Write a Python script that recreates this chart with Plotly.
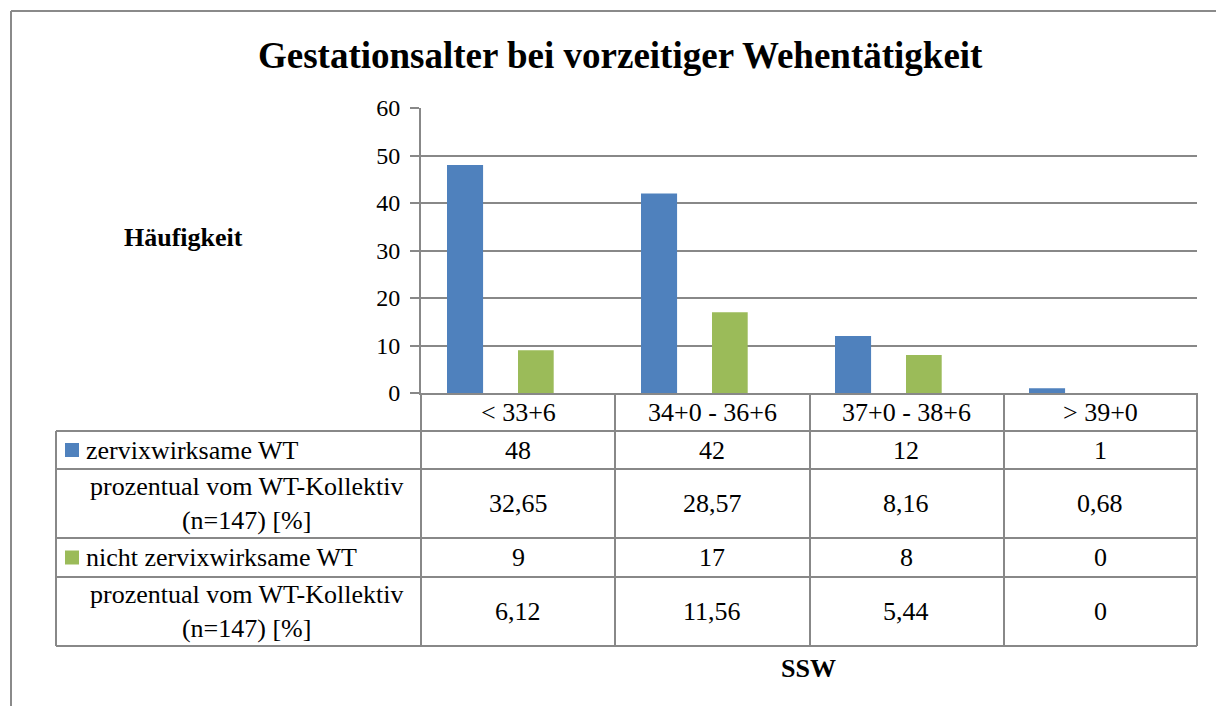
import plotly.graph_objects as go

# data
categories = ['< 33+6', '34+0 - 36+6', '37+0 - 38+6', '> 39+0']
zervix = [48, 42, 12, 1]
zervix_pct = [32.65, 28.57, 8.16, 0.68]
nicht = [9, 17, 8, 0]
nicht_pct = [6.12, 11.56, 5.44, 0]
row_names = ['zervixwirksame WT', 'prozentual vom WT-Kollektiv<br>(n=147) [%]',
             'nicht zervixwirksame WT', 'prozentual vom WT-Kollektiv<br>(n=147) [%]']

BLUE = '#4F81BD'
GREEN = '#9BBB59'
GRID = '#888888'
FONT = 'Liberation Serif, Times New Roman, serif'

# page body has an 8px margin, so everything is laid out 8px up/left
OFF = 8
W, H = 1224 - OFF, 706 - OFF
L, R, T, B = 421 - OFF, 1197 - OFF, 108 - OFF, 393 - OFF   # plot area


def px(x):
    return (x - OFF - L) / (R - L)


def py(y):
    return (B - (y - OFF)) / (B - T)


def fmt(v):
    if v == 0:
        return '0'
    return f'{v:.2f}'.replace('.', ',')


def esc(s):
    return s.replace('<', '&lt;').replace('>', '&gt;')


fig = go.Figure()
fig.add_trace(go.Bar(x=categories, y=zervix, name='zervixwirksame WT',
                     marker=dict(color=BLUE, line=dict(width=0)),
                     offset=-0.366, width=0.186))
fig.add_trace(go.Bar(x=categories, y=nicht, name='nicht zervixwirksame WT',
                     marker=dict(color=GREEN, line=dict(width=0)),
                     offset=0.0, width=0.184))

fig.update_layout(
    width=W, height=H,
    margin=dict(l=L, r=W - R, t=T, b=H - B),
    paper_bgcolor='white', plot_bgcolor='white',
    barmode='overlay', showlegend=False,
    font=dict(family=FONT, size=26, color='black'),
    xaxis=dict(type='category', range=[-0.5, 3.5], showticklabels=False,
               showgrid=False, showline=True, linecolor=GRID, linewidth=2,
               ticks='', fixedrange=True),
    yaxis=dict(range=[0, 60], dtick=10, showgrid=True, gridcolor=GRID,
               gridwidth=1.5, showline=True, linecolor=GRID, linewidth=2,
               ticks='outside', ticklen=9, tickcolor=GRID, tickwidth=1.5,
               ticklabelstandoff=5, zeroline=False, tickfont=dict(size=24)),
)

shapes = []
line = dict(color=GRID, width=2)
# outer frame (top and left)
shapes.append(dict(type='line', xref='paper', yref='paper',
                   x0=px(11), x1=px(1240), y0=py(11), y1=py(11),
                   line=dict(color='#8a8a8a', width=2)))
shapes.append(dict(type='line', xref='paper', yref='paper',
                   x0=px(11), x1=px(11), y0=py(11), y1=py(720),
                   line=dict(color='#8a8a8a', width=2)))

# data table
row_edges = [393, 431, 469, 538, 577, 646]
col_edges = [421, 615, 810, 1004, 1197]
for y in row_edges[1:]:
    shapes.append(dict(type='line', xref='paper', yref='paper',
                       x0=px(56), x1=px(1197), y0=py(y), y1=py(y), line=line))
shapes.append(dict(type='line', xref='paper', yref='paper',
                   x0=px(56), x1=px(56), y0=py(431), y1=py(646), line=line))
for x in col_edges:
    shapes.append(dict(type='line', xref='paper', yref='paper',
                       x0=px(x), x1=px(x), y0=py(393), y1=py(646), line=line))
# legend keys
for r, c in [(1, BLUE), (3, GREEN)]:
    yc = (row_edges[r] + row_edges[r + 1]) / 2
    shapes.append(dict(type='rect', xref='paper', yref='paper',
                       x0=px(65), x1=px(79), y0=py(yc - 7), y1=py(yc + 7),
                       fillcolor=c, line=dict(width=0)))


def note(text, x, y, xref='paper', xanchor='center', size=None, **kw):
    d = dict(text=text, xref=xref, yref='paper', x=x, y=py(y),
             xanchor=xanchor, yanchor='middle', showarrow=False, **kw)
    if size:
        d['font'] = dict(size=size)
    return d


ann = []
ann.append(note('<b>Gestationsalter bei vorzeitiger Wehentätigkeit</b>',
                px(620), 55, size=37))
ann.append(note('<b>Häufigkeit</b>', px(184), 237, size=26))
ann.append(note('<b>SSW</b>', px(808), 668, size=26))

# header row
for c in categories:
    ann.append(note(esc(c), c, 412, xref='x'))

rows = [[str(v) for v in zervix], [fmt(v) for v in zervix_pct],
        [str(v) for v in nicht], [fmt(v) for v in nicht_pct]]
for r, (name, vals) in enumerate(zip(row_names, rows)):
    yc = (row_edges[r + 1] + row_edges[r + 2]) / 2
    if r % 2 == 0:
        ann.append(note(name, px(84), yc, xanchor='left'))
    else:
        ann.append(note(name, px(246), yc, align='center'))
    for c, v in zip(categories, vals):
        ann.append(note(v, c, yc, xref='x'))

fig.update_layout(shapes=shapes, annotations=ann)
fig.write_html('out.html')
